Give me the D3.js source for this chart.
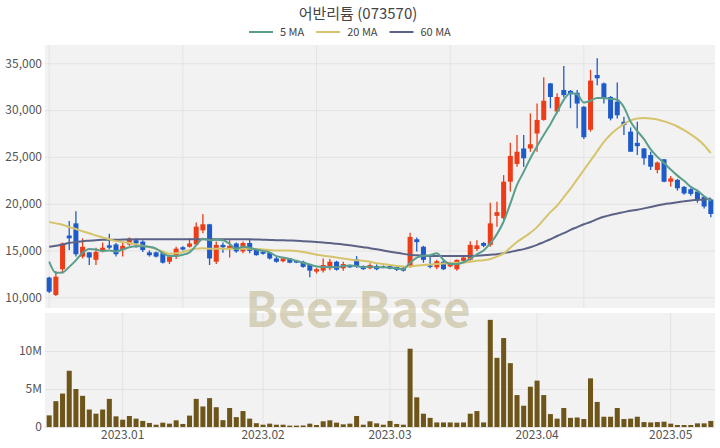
<!DOCTYPE html>
<html><head><meta charset="utf-8">
<script src="https://cdn.jsdelivr.net/npm/d3@7"></script>
<style>
html,body{margin:0;padding:0;background:#fff;}
svg text{font-family:"Noto Sans CJK KR","Noto Sans",sans-serif;}
</style></head>
<body><svg id="c" width="720" height="448"></svg>
<script>
const titleText = "어반리튬 (073570)";
const legendLabels = ["5 MA", "20 MA", "60 MA"];
const tickLabels = ["2023.01", "2023.02", "2023.03", "2023.04", "2023.05"];
const tickDays = [11, 32, 51, 73, 93];
const priceTicks = [10000, 15000, 20000, 25000, 30000, 35000];
const volTicks = [0, 5e6, 10e6];

const openP = [12100,10250,13000,16600,17900,14350,14800,14000,14900,15550,15650,15050,15650,16100,15950,14800,14800,14700,13800,14350,
15350,15400,15650,17150,17800,13800,15600,15150,15750,14900,15800,15100,14850,14750,14150,13850,14150,13900,13800,13450,
12750,12850,13100,13800,13100,13450,14050,13350,13100,13350,13300,13350,13250,13150,13300,16200,15400,13400,13200,13800,
13300,13000,13900,14000,15150,15800,15600,18700,18450,22350,24250,25900,25900,27500,28950,32850,29850,32150,32050,31850,
30350,27900,33750,32850,31400,30900,28750,27700,26500,25900,25200,23600,24750,22350,22550,21800,21550,21300,20750,20450];
const highP = [12200,12800,15850,18150,19200,16300,14850,15300,15850,16800,15800,15800,16400,16300,16100,15000,14900,14900,14550,15400,
15450,16300,18000,18900,17850,15950,15850,16100,15850,15950,16150,15200,14900,14850,14300,14300,14200,13950,13900,13550,
13150,14150,14100,13900,13800,13500,14400,13400,13650,13500,13400,13450,13300,13250,16900,16400,15500,14350,14000,13950,
13800,14050,14350,16000,16100,15900,20100,20200,23050,26500,27350,27350,29650,30700,33500,32900,31800,34700,32150,32150,
30450,34300,35550,32950,31500,32950,29300,28150,28750,25950,25550,24500,24750,22950,22650,21900,21650,21350,20800,20550];
const lowP = [10450,10150,12550,15050,14350,14150,13450,13450,14800,15150,14350,14350,15500,15300,14850,14350,14250,13600,13550,14100,
15000,15300,15500,16850,13450,13550,14750,14250,14750,14700,14700,14450,14550,14050,13700,13750,13650,13650,13150,12150,
12550,12650,12900,12850,12850,13150,13150,12950,13000,12900,13100,13000,12800,12750,13150,14900,13700,13100,13000,12900,
13200,12850,13800,13900,14950,15350,15400,17550,18250,21300,23950,23950,25550,25550,28850,30200,29650,31350,30200,28050,
26900,27700,32650,30700,28900,29100,27350,25550,25200,24150,23600,23250,22300,21800,21400,20950,20850,20100,19500,18550];
const closeP = [10600,12200,15750,16300,14600,15400,14250,14850,15300,15300,14600,15500,16300,15750,15050,14500,14350,13700,14350,15200,
15100,15750,17550,17800,14150,15600,15350,15500,14900,15800,14950,14500,14650,14150,13800,14150,13700,13700,13250,12850,
13000,13450,13800,12950,13550,13200,13250,13000,13450,13000,13200,13050,12950,12850,16450,15900,14000,13250,13850,13000,
13700,14000,14250,15600,15550,15500,17900,19100,22350,25100,25550,24850,26350,28950,31000,31400,31400,31600,31700,30700,
27100,33150,33400,31250,29100,29450,28400,25550,26150,24850,23950,24400,22350,22700,21650,21100,21050,20450,19700,18900];
const volume = [1.53,3.4,4.4,7.4,5.0,4.1,2.3,1.75,2.3,3.7,1.4,0.96,1.45,1.1,0.8,0.53,0.3,0.57,0.44,0.88,
0.4,1.5,3.7,2.7,3.8,2.6,0.9,2.5,1.3,2.1,1.1,0.5,0.3,0.44,0.3,0.3,0.18,0.18,0.2,0.44,
0.26,0.75,0.88,0.57,0.35,0.44,1.45,0.3,0.75,0.48,0.3,0.8,0.4,0.3,10.3,3.9,1.75,1.2,0.6,0.6,
0.6,0.57,0.6,1.75,2.1,0.6,14.1,9.1,11.7,8.4,4.2,2.8,5.3,6.1,4.2,1.7,1.1,2.5,1.2,1.25,
1.05,6.4,3.3,1.35,1.35,2.5,1.05,1.1,1.35,0.65,0.6,0.65,0.7,0.44,0.26,0.26,0.26,0.48,0.48,0.8].map(v => v * 1e6);
const ma5 = [13800,12600,12650,13250,13950,14750,15150,15100,14950,15000,14900,15100,15350,15450,15450,15400,15200,14700,14400,14400,
14550,14800,15550,16250,16100,16150,16100,15700,15150,15400,15300,15100,14950,14800,14400,14250,14100,13900,13700,13500,
13300,13250,13250,13200,13350,13400,13350,13200,13300,13200,13200,13150,13100,13000,13700,14250,14450,14500,14700,14000,
13550,13550,13750,14100,14600,15000,15750,16750,18100,20000,22000,23400,24850,26150,27350,28500,29800,31100,31800,31700,
30800,31000,31300,31300,31200,31100,30300,28750,27750,26900,25800,25000,24350,23650,23000,22450,21800,21400,20800,20300];
const ma20 = [18050,17900,17750,17500,17300,17050,16850,16600,16400,16200,16000,15900,15800,15650,15500,15350,15150,14900,14650,14700,
14850,15050,15200,15250,15200,15200,15200,15200,15200,15200,15200,15150,15100,15050,15000,15000,15000,14950,14850,14700,
14550,14450,14350,14250,14150,14050,13950,13900,13800,13650,13550,13450,13350,13300,13300,13400,13450,13500,13550,13600,
13650,13700,13700,13800,13900,13950,14100,14350,14700,15300,15900,16400,16900,17500,18300,19100,19800,20700,21600,22600,
23600,24600,25600,26600,27400,28000,28500,28900,29100,29150,29100,29000,28800,28550,28250,27850,27400,26900,26250,25400];
const ma60 = [15400,15500,15650,15800,15900,16000,16050,16100,16150,16150,16150,16170,16180,16190,16190,16190,16190,16190,16190,16190,
16190,16190,16190,16190,16190,16190,16190,16190,16200,16200,16200,16180,16150,16130,16100,16090,16070,16050,16000,15950,
15900,15850,15800,15720,15650,15550,15450,15350,15250,15130,15000,14870,14750,14640,14550,14480,14450,14420,14410,14400,
14400,14400,14400,14400,14450,14500,14550,14600,14700,14850,15000,15150,15350,15600,15900,16200,16550,16850,17200,17500,
17800,18050,18350,18600,18800,18950,19100,19250,19350,19500,19650,19800,19950,20050,20150,20250,20350,20400,20450,20550];

const colors = {up:"#ec3d18", down:"#1f5bc8", vol:"#6e5519", ma5:"#5b9e8d", ma20:"#d6c46c", ma60:"#5b6285",
  bg:"#f2f2f2", grid:"#e3e3e3", text:"#555"};
const L = 45, R = 715;
const P = {top:45, bottom:308};
const V = {top:313, bottom:427};
const n = closeP.length;
const idx = d3.range(n);

const svg = d3.select("#c");
const x = d3.scaleBand().domain(idx).range([L, R]).padding(0.25);
const cx = i => x(i) + x.bandwidth() / 2;
const y = d3.scaleLinear().domain([8857, 36955]).range([P.bottom, P.top]);
const yv = d3.scaleLinear().domain([0, 15e6]).range([V.bottom, V.top]);

// title & legend
svg.append("text").attr("x", 358).attr("y", 19).attr("text-anchor", "middle")
  .attr("font-size", 15).attr("fill", "#444").text(titleText);
const legColors = [colors.ma5, colors.ma20, colors.ma60];
let lx = 249;
legendLabels.forEach((lab, k) => {
  svg.append("line").attr("x1", lx).attr("x2", lx + 24).attr("y1", 32).attr("y2", 32)
    .attr("stroke", legColors[k]).attr("stroke-width", 2);
  const t = svg.append("text").attr("x", lx + 31).attr("y", 36).attr("font-size", 11)
    .attr("fill", "#444").text(lab);
  lx = lx + 31 + t.node().getComputedTextLength() + 12;
});

// backgrounds
svg.append("rect").attr("x", L).attr("y", P.top).attr("width", R - L).attr("height", P.bottom - P.top).attr("fill", colors.bg);
svg.append("rect").attr("x", L).attr("y", V.top).attr("width", R - L).attr("height", V.bottom - V.top).attr("fill", colors.bg);

function styleAxis(g) {
  g.select(".domain").remove();
  g.selectAll(".tick line").attr("stroke", colors.grid).attr("stroke-width", 1);
  g.selectAll(".tick text").attr("fill", colors.text).attr("font-size", 12)
    .attr("font-family", '"Noto Sans CJK KR","Noto Sans",sans-serif');
}
// price grid
svg.append("g").attr("transform", `translate(0,${P.bottom})`)
  .call(d3.axisBottom(x).tickValues([0, 20, 40, 60, 80]).tickSize(-(P.bottom - P.top)).tickFormat(""))
  .call(styleAxis);
svg.append("g").attr("transform", `translate(${L},0)`)
  .call(d3.axisLeft(y).tickValues(priceTicks).tickSize(-(R - L)).tickPadding(3).tickFormat(d3.format(",")))
  .call(styleAxis);
// volume grid
svg.append("g").attr("transform", `translate(0,${V.bottom})`)
  .call(d3.axisBottom(x).tickValues(tickDays).tickSize(-(V.bottom - V.top)).tickPadding(3)
    .tickFormat((d, k) => tickLabels[k]))
  .call(styleAxis);
svg.append("g").attr("transform", `translate(${L},0)`)
  .call(d3.axisLeft(yv).tickValues(volTicks).tickSize(-(R - L)).tickPadding(3)
    .tickFormat(d => d === 0 ? "0" : (d / 1e6) + "M"))
  .call(styleAxis);

// watermark
svg.append("text").attr("x", 358).attr("y", 327).attr("text-anchor", "middle")
  .attr("font-family", '"Liberation Sans",Arial,sans-serif').attr("font-weight", "bold")
  .attr("font-size", 48).attr("fill", "#bdb388").attr("fill-opacity", 0.55).text("BeezBase");

// volume bars
svg.append("g").selectAll("rect").data(idx).join("rect")
  .attr("x", i => x(i)).attr("width", x.bandwidth())
  .attr("y", i => yv(volume[i])).attr("height", i => yv(0) - yv(volume[i]))
  .attr("fill", colors.vol);

// candles
const cg = svg.append("g");
const col = i => closeP[i] >= openP[i] ? colors.up : colors.down;
cg.selectAll("line").data(idx).join("line")
  .attr("x1", cx).attr("x2", cx)
  .attr("y1", i => y(highP[i])).attr("y2", i => y(lowP[i]))
  .attr("stroke", col).attr("stroke-width", 1.3);
cg.selectAll("rect").data(idx).join("rect")
  .attr("x", i => x(i)).attr("width", x.bandwidth())
  .attr("y", i => y(Math.max(openP[i], closeP[i])))
  .attr("height", i => Math.max(1, Math.abs(y(openP[i]) - y(closeP[i]))))
  .attr("fill", col);

// moving averages
const line = arr => d3.line().x(i => cx(i)).y(i => y(arr[i])).curve(d3.curveMonotoneX)(idx);
[[ma60, colors.ma60], [ma20, colors.ma20], [ma5, colors.ma5]].forEach(([arr, c]) => {
  svg.append("path").attr("d", line(arr)).attr("fill", "none").attr("stroke", c).attr("stroke-width", 2);
});
</script></body></html>
